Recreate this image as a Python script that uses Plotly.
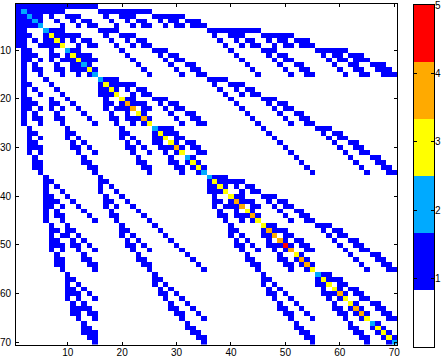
import numpy as np
import plotly.graph_objects as go

# Occupied columns of each matrix row ("a-b" is a run of columns)
row_columns = [
    "1-15",
    "1-9 16-25",
    "1-5 7 10-12 17 20-22 26-31",
    "1-5 8 11 13 14 18 21 23 24 27 29 30 32-34",
    "1-5 9 12 14 15 19 22 24 25 28 30 31 33-35",
    "1 2 6-9 16-19 36-45",
    "1-3 6-12 17 20-22 37 40-42 46-51",
    "1 2 4 6-9 11 13 14 18 21 23 24 38 41 43 44 47 49 50 52-54",
    "1 2 5-9 12 14 15 19 22 24 25 39 42 44 45 48 50 51 53-55",
    "2 3 7 10-12 20 26-28 40 46-48 56-61",
    "2-4 7 8 10-14 21 27 29 30 41 47 49 50 57 59 60 62-64",
    "2 3 5 7 9-15 22 28 30 31 42 48 50 51 58 60 61 63-65",
    "2 4 8 11-14 23 29 32 33 43 49 52 53 59 62 63 66-68",
    "2 4 5 8 9 11-15 24 30 33 34 44 50 53 54 60 63 64 67-69",
    "2 5 9 12 14 15 25 31 34 35 45 51 54 55 61 64 65 68-70",
    "2 6 16-19 36-39",
    "2 3 7 16-22 37 40-42",
    "2 4 8 16-19 21 23 24 38 41 43 44",
    "2 5 9 16-19 22 24 25 39 42 44 45",
    "2 3 7 10 17 20-22 26-28 40 46-48",
    "2-4 7 8 11 17 18 20-24 27 29 30 41 47 49 50",
    "2 3 5 7 9 12 17 19-22 24 25 28 30 31 42 48 50 51",
    "2 4 8 13 18 21 23 24 29 32 33 43 49 52 53",
    "2 4 5 8 9 14 18 19 21-25 30 33 34 44 50 53 54",
    "2 5 9 15 19 22 24 25 31 34 35 45 51 54 55",
    "3 10 20 26-29 46 56-58",
    "3 4 10 11 20 21 26-30 47 57 59 60",
    "3 5 10 12 20 22 26-28 30 31 48 58 60 61",
    "3 4 11 13 21 23 26 27 29 30 32 33 49 59 62 63",
    "3-5 11 12 14 21 22 24 27-31 33 34 50 60 63 64",
    "3 5 12 15 22 25 28 30 31 34 35 51 61 64 65",
    "4 13 23 29 32 33 52 62 66 67",
    "4 5 13 14 23 24 29 30 32-34 53 63 67 68",
    "4 5 14 15 24 25 30 31 33-35 54 64 68 69",
    "5 15 25 31 34 35 55 65 69 70",
    "6 16 36-39",
    "6 7 16 17 36-42",
    "6 8 16 18 36-39 41 43 44",
    "6 9 16 19 36-39 42 44 45",
    "6 7 10 17 20 37 40-42 46-48",
    "6-8 11 17 18 21 37 38 40-44 47 49 50",
    "6 7 9 12 17 19 22 37 39-42 44 45 48 50 51",
    "6 8 13 18 23 38 41 43 44 49 52 53",
    "6 8 9 14 18 19 24 38 39 41-45 50 53 54",
    "6 9 15 19 25 39 42 44 45 51 54 55",
    "7 10 20 26 40 46-48 56-58",
    "7 8 10 11 20 21 27 40 41 46-50 57 59 60",
    "7 9 10 12 20 22 28 40 42 46-48 50 51 58 60 61",
    "7 8 11 13 21 23 29 41 43 47 49 50 52 53 59 62 63",
    "7-9 11 12 14 21 22 24 30 41 42 44 47-51 53 54 60 63 64",
    "7 9 12 15 22 25 31 42 45 48 50 51 54 55 61 64 65",
    "8 13 23 32 43 49 52 53 62 66 67",
    "8 9 13 14 23 24 33 43 44 49 50 52-54 63 67 68",
    "8 9 14 15 24 25 34 44 45 50 51 53-55 64 68 69",
    "9 15 25 35 45 51 54 55 65 69 70",
    "10 26 46 56-58",
    "10 11 26 27 46 47 56-60",
    "10 12 26 28 46 48 56-58 60 61",
    "10 11 13 27 29 47 49 57 59 60 62 63",
    "10-12 14 27 28 30 47 48 50 57-61 63 64",
    "10 12 15 28 31 48 51 58 60 61 64 65",
    "11 13 29 32 49 52 59 62 63 66 67",
    "11-14 29 30 33 49 50 53 59 60 62-64 67 68",
    "11 12 14 15 30 31 34 50 51 54 60 61 63-65 68 69",
    "12 15 31 35 51 55 61 64 65 69 70",
    "13 32 52 62 66 67",
    "13 14 32 33 52 53 62 63 66-68",
    "13-15 33 34 53 54 63 64 67-69",
    "14 15 34 35 54 55 64 65 68-70",
    "15 35 55 65 69 70",
]

diagonal_values = [
    1, 2, 2, 2, 2, 2, 3, 3, 3, 2,
    3, 3, 2, 3, 2, 2, 3, 3, 3, 3,
    4, 4, 3, 4, 3, 2, 3, 3, 3, 4,
    3, 2, 3, 3, 2, 2, 3, 3, 3, 3,
    4, 4, 3, 4, 3, 3, 4, 4, 4, 5,
    4, 3, 4, 4, 3, 2, 3, 3, 3, 4,
    3, 3, 4, 4, 3, 2, 3, 3, 3, 2,
]

matrix_ticks = [10, 20, 30, 40, 50, 60, 70]
bar_ticks = [1, 2, 3, 4, 5]
bar_levels = [0.4167, 1.25, 2.0833, 2.9167, 3.75, 4.5833]
palette = ["#ffffff", "#0000ff", "#00aaff", "#ffff00", "#ffaa00", "#ff0000"]

n = len(row_columns)
z = np.zeros((n, n))
for i, text in enumerate(row_columns):
    for part in text.split():
        a, _, b = part.partition("-")
        z[i, int(a) - 1 : int(b or a)] = 1
    z[i, i] = diagonal_values[i]

scale = []
for k, colour in enumerate(palette):
    scale += [[k / 6, colour], [(k + 1) / 6, colour]]

axes_font = dict(family="Liberation Sans", size=10, color="#000000")
W, H = 441, 356
fig = go.Figure()
fig.add_trace(go.Heatmap(
    z=z, x=np.arange(1, n + 1), y=np.arange(1, n + 1),
    zmin=0, zmax=5, colorscale=scale, showscale=False, hoverinfo="skip",
))
fig.add_trace(go.Heatmap(
    z=[[v] for v in bar_levels], x=[0], y=bar_levels,
    zmin=0, zmax=5, colorscale=scale, showscale=False, hoverinfo="skip",
    xaxis="x2", yaxis="y2",
))
common = dict(showline=True, linecolor="#000000", linewidth=1, mirror="ticks",
              ticks="inside", ticklen=3, tickcolor="#000000", tickwidth=1,
              showgrid=False, zeroline=False, tickfont=axes_font, automargin=False,
              ticklabeloverflow="allow")
fig.update_layout(
    width=W, height=H, autosize=False, paper_bgcolor="#ffffff", plot_bgcolor="#ffffff",
    margin=dict(l=0, r=0, t=0, b=0), showlegend=False,
    xaxis=dict(domain=[16 / W, 397 / W], range=[0.5, 70.5], tickvals=matrix_ticks,
               anchor="y", ticklabelstandoff=-2, **common),
    yaxis=dict(domain=[1 - 344.5 / H, 1 - 4 / H], range=[70.5, 0.5], tickvals=matrix_ticks,
               anchor="x", ticklabelstandoff=2, **common),
    xaxis2=dict(domain=[414 / W, 434 / W], range=[-0.5, 0.5], showticklabels=False,
                showline=True, linecolor="#000000", mirror=True, ticks="",
                showgrid=False, zeroline=False, anchor="y2", automargin=False),
    yaxis2=dict(domain=[1 - 347 / H, 1 - 5 / H], range=[0, 5], tickvals=bar_ticks,
                side="right", anchor="x2", ticklabelstandoff=-2, **common),
)
fig.write_html("out.html", config={"displayModeBar": False},
               post_script="document.body.style.margin='0';document.body.style.overflow='hidden';")
